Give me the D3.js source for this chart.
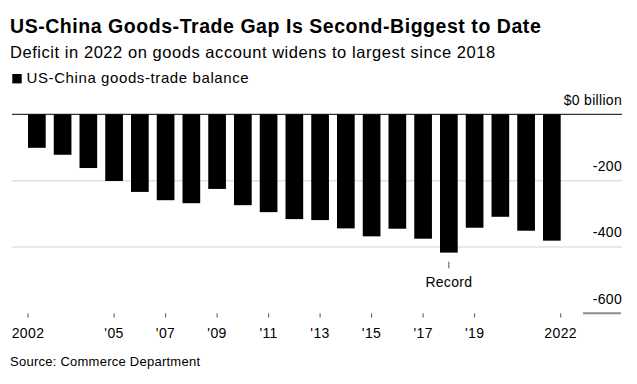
<!DOCTYPE html>
<html>
<head>
<meta charset="utf-8">
<script src="https://cdn.jsdelivr.net/npm/d3@7"></script>
<style>
  body { margin: 0; background: #fff; }
  svg { display: block; font-family: "Liberation Sans", Arial, Helvetica, sans-serif; }
</style>
</head>
<body>
<svg id="chart" width="637" height="384"></svg>
<script>
const years = d3.range(2002, 2023);
// US-China goods-trade balance, $ billion
const balance = [-101, -122, -162, -201, -234, -259, -268, -225, -274, -295, -316,
  -319, -344, -368, -345, -375, -417, -342, -309, -351, -381];
const tickYears = [2002, 2005, 2007, 2009, 2011, 2013, 2015, 2017, 2019, 2022];
const yTicks = [0, -200, -400, -600];

const svg = d3.select("#chart");

/*scales*/
const x = d3.scaleBand()
  .domain(years)
  .range([28, 560.7])
  .paddingInner(0.313)
  .paddingOuter(0);

const y = d3.scaleLinear()
  .domain([-600, 0])
  .range([313.3, 114.3]);

const gridLeft = 12, gridRight = 622;

/*header*/
svg.append("text")
  .attr("x", 10).attr("y", 33)
  .style("font-size", "19.5px").style("font-weight", "bold")
  .style("letter-spacing", "0.55px")
  .text("US-China Goods-Trade Gap Is Second-Biggest to Date");

svg.append("text")
  .attr("x", 10).attr("y", 57.5)
  .style("font-size", "16.5px")
  .style("letter-spacing", "0.55px")
  .text("Deficit in 2022 on goods account widens to largest since 2018");

svg.append("rect")
  .attr("x", 12.3).attr("y", 74).attr("width", 9.4).attr("height", 9.4)
  .attr("fill", "#000");
svg.append("text")
  .attr("x", 26.5).attr("y", 83.3)
  .style("font-size", "15px")
  .style("letter-spacing", "0.6px")
  .text("US-China goods-trade balance");

/*grid lines (the -600 one is just a short stub under its label)*/
svg.append("g")
  .selectAll("line")
  .data(yTicks.filter(d => d !== 0 && d !== -600))
  .join("line")
  .attr("x1", gridLeft).attr("x2", gridRight)
  .attr("y1", d => y(d)).attr("y2", d => y(d))
  .attr("stroke", "#e0e0e0").attr("stroke-width", 1.5);

svg.append("line")
  .attr("x1", 583).attr("x2", 621)
  .attr("y1", y(-600)).attr("y2", y(-600))
  .attr("stroke", "#8c8c8c").attr("stroke-width", 2);

/*y labels*/
svg.append("g")
  .selectAll("text")
  .data(yTicks)
  .join("text")
  .attr("x", gridRight)
  .attr("y", d => y(d) - 9.5)
  .attr("text-anchor", "end")
  .style("font-size", "14px")
  .style("letter-spacing", "0.3px")
  .text(d => d === 0 ? "$0 billion" : d);

/*bars*/
svg.append("g")
  .selectAll("rect")
  .data(years)
  .join("rect")
  .attr("x", d => x(d))
  .attr("width", x.bandwidth())
  .attr("y", y(0))
  .attr("height", (d, i) => y(balance[i]) - y(0))
  .attr("fill", "#000");

/*zero line*/
svg.append("line")
  .attr("x1", gridLeft).attr("x2", gridRight)
  .attr("y1", y(0)).attr("y2", y(0))
  .attr("stroke", "#000").attr("stroke-width", 1);

/*x ticks: first and last sit at the outer bar edges*/
const tickX = d => {
  if (d === years[0]) return x(d);
  if (d === years[years.length - 1]) return x(d) + x.bandwidth();
  return x(d) + x.bandwidth() / 2;
};
const fmtYear = d => (d === years[0] || d === years[years.length - 1]) ? String(d) : "'" + String(d).slice(2);

const xAxis = svg.append("g");
xAxis.selectAll("line")
  .data(tickYears)
  .join("line")
  .attr("x1", tickX).attr("x2", tickX)
  .attr("y1", 313.3).attr("y2", 317.5)
  .attr("stroke", "#555").attr("stroke-width", 1);
xAxis.selectAll("text")
  .data(tickYears)
  .join("text")
  .attr("x", tickX)
  .attr("y", 337.5)
  .attr("text-anchor", "middle")
  .style("font-size", "14px")
  .style("letter-spacing", "0.4px")
  .text(fmtYear);

/*record annotation*/
const recIdx = balance.indexOf(d3.min(balance));
const recX = x(years[recIdx]) + x.bandwidth() / 2;
svg.append("line")
  .attr("x1", recX).attr("x2", recX)
  .attr("y1", 261.7).attr("y2", 268.3)
  .attr("stroke", "#555").attr("stroke-width", 1);
svg.append("text")
  .attr("x", recX).attr("y", 286.7)
  .attr("text-anchor", "middle")
  .style("font-size", "14px")
  .style("letter-spacing", "0.3px")
  .text("Record");

/*source*/
svg.append("text")
  .attr("x", 10).attr("y", 365.7)
  .style("font-size", "13px")
  .style("letter-spacing", "0.25px")
  .text("Source: Commerce Department");
</script>
</body>
</html>
